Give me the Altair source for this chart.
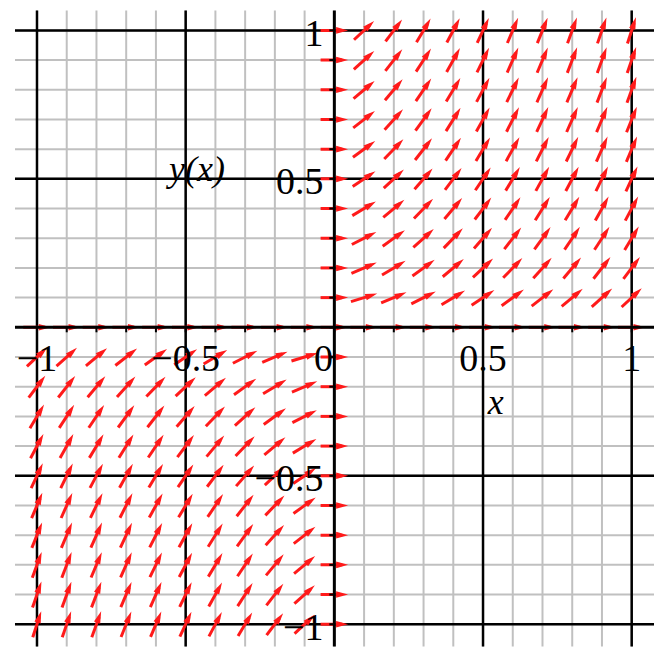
import altair as alt
import pandas as pd
import math

# ---- data ----
grid_values = [-1.0, -0.9, -0.8, -0.7, -0.6, -0.5, -0.4, -0.3, -0.2, -0.1, 0.0,
               0.1, 0.2, 0.3, 0.4, 0.5, 0.6, 0.7, 0.8, 0.9, 1.0]
major_values = [-1.0, -0.5, 0.5, 1.0]
steps = [0.1, 0.2, 0.3, 0.4, 0.5, 0.6, 0.7, 0.8, 0.9, 1.0]

# arrow direction (degrees) in the first quadrant; rows = |y| 0.1..1.0, cols = |x| 0.1..1.0
# third quadrant mirrors the first (same angles at (-x, -y))
angle_deg = [
    [17, 23, 27, 31, 34, 36, 38, 40, 42, 43],
    [23, 31, 36, 40, 43, 46, 48, 50, 52, 53],
    [27, 36, 42, 46, 49, 52, 54, 56, 57, 59],
    [31, 40, 46, 50, 53, 56, 58, 59, 61, 62],
    [34, 43, 49, 53, 56, 59, 61, 62, 64, 65],
    [36, 46, 52, 56, 59, 61, 63, 64, 66, 67],
    [38, 48, 54, 58, 61, 63, 65, 66, 67, 68],
    [40, 50, 56, 59, 62, 64, 66, 67, 69, 70],
    [42, 52, 57, 61, 64, 66, 67, 69, 70, 71],
    [43, 53, 59, 62, 65, 67, 68, 70, 71, 72],
]

x_tick_values = [-1.0, -0.5, 0.5, 1.0]
x_tick_labels = ["\u22121", "\u22120.5", "0.5", "1"]
y_tick_values = [-1.0, -0.5, 0.5, 1.0]
y_tick_labels = ["\u22121", "\u22120.5", "0.5", "1"]

# ---- build arrow table ----
pts = []
for j, yv in enumerate(steps):
    for i, xv in enumerate(steps):
        a = angle_deg[j][i]
        pts.append((xv, yv, a))
        pts.append((-xv, -yv, a))
for v in grid_values:
    pts.append((0.0, v, 0))
    if v != 0.0:
        pts.append((v, 0.0, 0))

L = 0.0925      # arrow length (data units)
HEAD = 0.02     # part of shaft hidden under head
rows = []
for x0, y0, a in pts:
    c, s = math.cos(math.radians(a)), math.sin(math.radians(a))
    rows.append({
        "x0": x0 - L / 2 * c, "y0": y0 - L / 2 * s,
        "xs": x0 + (L / 2 - HEAD) * c, "ys": y0 + (L / 2 - HEAD) * s,
        "xt": x0 + L / 2 * c, "yt": y0 + L / 2 * s,
        "rot": (360 - a) % 360,
    })
arrows = pd.DataFrame(rows)

XS = alt.Scale(domain=[-1.074, 1.075], nice=False, zero=False)
YS = alt.Scale(domain=[-1.075, 1.067], nice=False, zero=False)

def X(f):
    return alt.X(f, scale=XS, axis=None)

def Y(f):
    return alt.Y(f, scale=YS, axis=None)

grid_df = pd.DataFrame({"v": grid_values})
major_df = pd.DataFrame({"v": major_values})
zero_df = pd.DataFrame({"v": [0.0]})

gray_v = alt.Chart(grid_df).mark_rule(color="#c0c0c0", strokeWidth=2).encode(x=X("v:Q"))
gray_h = alt.Chart(grid_df).mark_rule(color="#c0c0c0", strokeWidth=2).encode(y=Y("v:Q"))
major_v = alt.Chart(major_df).mark_rule(color="black", strokeWidth=2.5).encode(x=X("v:Q"))
major_h = alt.Chart(major_df).mark_rule(color="black", strokeWidth=2.5).encode(y=Y("v:Q"))

shafts = alt.Chart(arrows).mark_rule(color="#ff1a1a", strokeWidth=3, clip=True).encode(
    x=X("x0:Q"), y=Y("y0:Q"), x2="xs:Q", y2="ys:Q")
heads = alt.Chart(arrows).mark_point(
    shape="M0,0L-2,-0.55L-2,0.55Z", filled=True, size=144, color="#ff1a1a",
    opacity=1, strokeWidth=0, clip=True).encode(
    x=X("xt:Q"), y=Y("yt:Q"), angle=alt.Angle("rot:Q", scale=None))

axis_v = alt.Chart(zero_df).mark_rule(color="black", strokeWidth=3).encode(x=X("v:Q"))
axis_h = alt.Chart(zero_df).mark_rule(color="black", strokeWidth=3).encode(y=Y("v:Q"))

TL = 0.0168
tick_df = pd.DataFrame({"v": grid_values, "zero": [0.0] * len(grid_values),
                        "neg": [-TL] * len(grid_values)})
xticks = alt.Chart(tick_df).mark_rule(color="black", strokeWidth=2).encode(
    x=X("v:Q"), y=Y("zero:Q"), y2="neg:Q")
yticks = alt.Chart(tick_df).mark_rule(color="black", strokeWidth=2).encode(
    y=Y("v:Q"), x=X("zero:Q"), x2="neg:Q")

FONT = "Liberation Serif"
xl_df = pd.DataFrame({"v": x_tick_values, "t": x_tick_labels, "zero": 0.0})
yl_df = pd.DataFrame({"v": y_tick_values, "t": y_tick_labels, "zero": 0.0})
zl_df = pd.DataFrame({"v": [0.0], "t": ["0"]})

xlabels = alt.Chart(xl_df).mark_text(font=FONT, fontSize=38, align="center",
                                     baseline="alphabetic", dy=44, color="black").encode(
    x=X("v:Q"), y=Y("zero:Q"), text="t:N")
zlabel = alt.Chart(zl_df).mark_text(font=FONT, fontSize=38, align="center",
                                    baseline="alphabetic", dy=44, dx=-11, color="black").encode(
    x=X("v:Q"), y=Y("v:Q"), text="t:N")
ylabels = alt.Chart(yl_df).mark_text(font=FONT, fontSize=38, align="right",
                                     baseline="alphabetic", dx=-11, dy=15.5, color="black").encode(
    x=X("zero:Q"), y=Y("v:Q"), text="t:N")

title_df = pd.DataFrame({"x": [-0.462, 0.543], "y": [0.493, -0.2916], "t": ["y(x)", "x"]})
titles = alt.Chart(title_df).mark_text(font=FONT, fontSize=36, fontStyle="italic",
                                       align="center", baseline="alphabetic", color="black").encode(
    x=X("x:Q"), y=Y("y:Q"), text="t:N")

chart = alt.layer(
    gray_v, gray_h, major_v, major_h, shafts, heads, axis_v, axis_h,
    xticks, yticks, xlabels, zlabel, ylabels, titles
).properties(
    width=640, height=637,
    padding={"left": 5, "top": 0, "right": 0, "bottom": 0},
    background="white",
).configure_view(stroke=None)

chart.save("out.html", embed_options={"renderer": "svg", "actions": False})
